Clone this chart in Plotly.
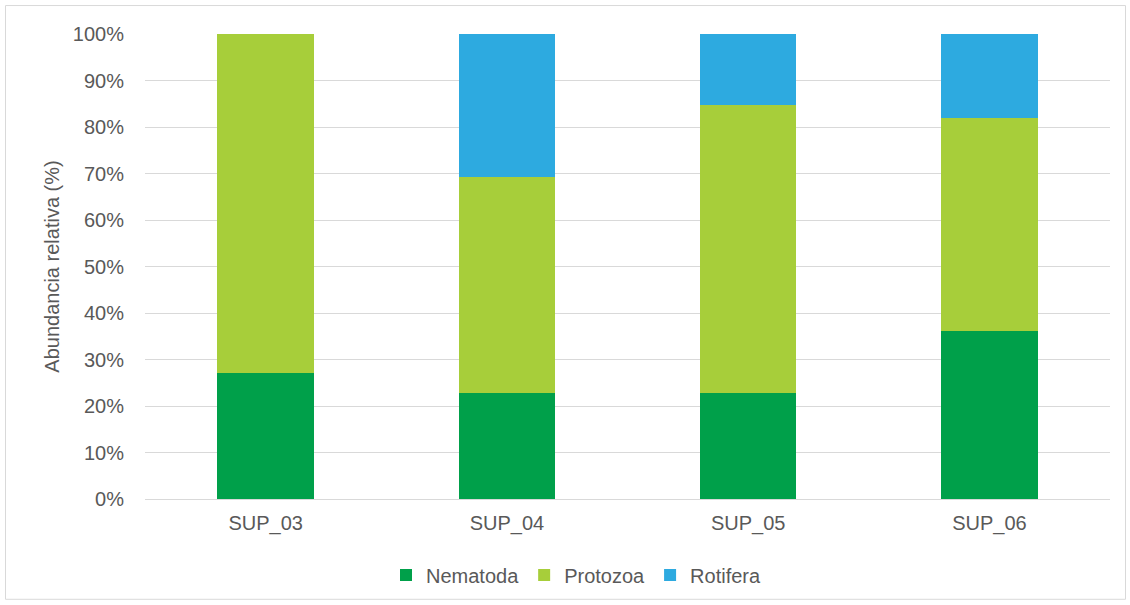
import plotly.graph_objects as go

categories = ["SUP_03", "SUP_04", "SUP_05", "SUP_06"]
nematoda = [27.0, 22.7, 22.9, 36.2]
protozoa = [73.0, 46.6, 61.8, 45.7]
rotifera = [0.0, 30.7, 15.3, 18.1]
y_ticks = [0, 10, 20, 30, 40, 50, 60, 70, 80, 90, 100]
y_tick_labels = [f"{v}%" for v in y_ticks]

W, H = 1130, 605
L, R, T, B = 145, 20, 34, 105
pw, ph = W - L - R, H - T - B

def px_x(x):
    return (x - L) / pw

def px_y(y):
    return (H - B - y) / ph

FS = 20
GRAY = "#595959"
font = dict(family="Liberation Sans, Arial, sans-serif", size=FS, color=GRAY)

fig = go.Figure()
for name, vals, col in [("Nematoda", nematoda, "#00A04A"),
                        ("Protozoa", protozoa, "#A7CE3A"),
                        ("Rotifera", rotifera, "#2DAAE0")]:
    fig.add_trace(go.Bar(x=categories, y=vals, name=name, marker=dict(color=col, line=dict(width=0))))

fig.update_layout(
    barmode="stack",
    bargap=0.6,
    width=W, height=H,
    margin=dict(l=L, r=R, t=T, b=B),
    paper_bgcolor="white",
    plot_bgcolor="white",
    font=font,
    showlegend=True,
    legend=dict(orientation="h", x=px_x(576), xanchor="center", y=px_y(575), yanchor="middle",
                font=dict(size=FS, color=GRAY), itemwidth=30, traceorder="normal"),
    xaxis=dict(showgrid=False, showline=False, ticks="outside", ticklen=6, tickcolor="rgba(0,0,0,0)",
               tickfont=dict(size=FS, color=GRAY)),
    yaxis=dict(range=[0, 100], tickvals=y_ticks, ticktext=y_tick_labels, showgrid=True,
               gridcolor="#D9D9D9", gridwidth=1, zeroline=True, zerolinecolor="#D9D9D9", zerolinewidth=1,
               ticks="outside", ticklen=16, tickcolor="rgba(0,0,0,0)",
               tickfont=dict(size=FS, color=GRAY),
               title=dict(text="Abundancia relativa (%)", font=dict(size=FS, color=GRAY), standoff=7)),
    shapes=[dict(type="rect", xref="paper", yref="paper",
                 x0=px_x(5.5), x1=px_x(1125.5), y0=px_y(600.5), y1=px_y(5.5),
                 line=dict(color="#D9D9D9", width=1), fillcolor="rgba(0,0,0,0)", layer="below")],
)

fig.write_html("out.html",
               config={"displayModeBar": False},
               post_script="document.body.style.margin='0';document.body.style.overflow='hidden';")
